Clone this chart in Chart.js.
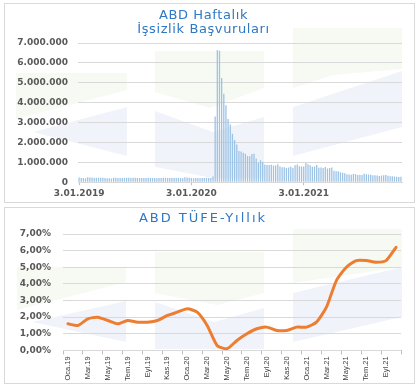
<!DOCTYPE html>
<html><head><meta charset="utf-8">
<script src="https://cdn.jsdelivr.net/npm/chart.js@4/dist/chart.umd.min.js"></script>
<style>
html,body{margin:0;padding:0;background:#fff;}
.panel{position:absolute;left:4px;width:409px;border:1px solid #d9d9d9;background:#fff;}
#p1{top:3px;height:198px;}
#p2{top:207px;height:175px;}
canvas{display:block;}
</style></head><body>
<div class="panel" id="p1"><canvas id="c1" width="409" height="198"></canvas></div>
<div class="panel" id="p2"><canvas id="c2" width="409" height="175"></canvas></div>
<script>
// ---- Data: weekly jobless claims (thousands) ----
const claimTitle = ['ABD Haftalık', 'İşsizlik Başvuruları'];
const claims2019 = [231,216,213,199,253,234,239,216,225,223,229,221,211,202,196,192,230,228,212,211,215,218,220,222,216,227,221,209,216,206,215,209,220,211,215,217,204,208,213,218,220,210,213,218,217,211,227,213,203,252,235,222];
const claims2020 = [214,204,211,216,202,205,210,219,216,211,282,3307,6648,6615,5237,4442,3867,3176,2900,2438,2123,1897,1566,1540,1482,1427,1314,1307,1416,1434,1186,963,1104,1011,884,866,860,873,837,845,898,787,751,751,709,742,778,712,853,885,803,787,787];
const claims2021 = [965,900,847,779,793,861,730,745,712,770,684,719,744,576,547,553,498,473,444,406,385,376,412,411,364,373,360,419,400,387,375,348,353,340,312,332,351,362,326,296,293,283,269,267,268];
const claimTickLabels = ['3.01.2019', '3.01.2020', '3.01.2021'];
const claimTickIndex = [0, 52, 104];

// ---- Data: US CPI YoY (%) ----
const cpiTitle = 'ABD TÜFE-Yıllık';
const cpiMonths = ['Oca.19','Şub.19','Mar.19','Nis.19','May.19','Haz.19','Tem.19','Ağu.19','Eyl.19','Eki.19','Kas.19','Ara.19',
  'Oca.20','Şub.20','Mar.20','Nis.20','May.20','Haz.20','Tem.20','Ağu.20','Eyl.20','Eki.20','Kas.20','Ara.20',
  'Oca.21','Şub.21','Mar.21','Nis.21','May.21','Haz.21','Tem.21','Ağu.21','Eyl.21','Eki.21'];
const cpi = [1.6,1.5,1.9,2.0,1.8,1.6,1.8,1.7,1.7,1.8,2.1,2.3,2.5,2.3,1.5,0.3,0.1,0.6,1.0,1.3,1.4,1.2,1.2,1.4,1.4,1.7,2.6,4.2,5.0,5.4,5.4,5.3,5.4,6.2];

const claims = [...claims2019, ...claims2020, ...claims2021];
const weekLabels = claims.map((_, i) => {
  const d = new Date(2019, 0, 3 + 7 * i);
  return d.getDate() + '.' + String(d.getMonth() + 1).padStart(2, '0') + '.' + d.getFullYear();
});

const GREEN = '#F6FAF3', BLUE = '#F0F4FA';
function decor(shapes, spacing) {
  return {
    id: 'decor',
    beforeDraw(chart) {
      const ctx = chart.ctx;
      ctx.save();
      shapes.forEach(s => {
        ctx.fillStyle = s.c;
        ctx.beginPath();
        s.p.forEach((pt, i) => i ? ctx.lineTo(pt[0], pt[1]) : ctx.moveTo(pt[0], pt[1]));
        ctx.closePath();
        ctx.fill();
      });
      ctx.restore();
      ctx.letterSpacing = spacing;
    },
    beforeDatasetsDraw(chart) { chart.ctx.letterSpacing = '0px'; }
  };
}
const topShapes = [
  {c: GREEN, p: [[11,69],[122,69],[122,86],[11,115]]},
  {c: BLUE,  p: [[28,128],[122,103],[122,152]]},
  {c: GREEN, p: [[150,47],[259,47],[259,84],[205,104],[150,88]]},
  {c: BLUE,  p: [[150,107],[208,128],[259,113],[259,174],[208,174],[150,163]]},
  {c: GREEN, p: [[288,24],[397,24],[397,65],[328,71],[288,84]]},
  {c: BLUE,  p: [[288,103],[397,67],[397,123],[288,152]]}
];
const botShapes = [
  {c: GREEN, p: [[12,59],[121,59],[121,74],[12,102]]},
  {c: BLUE,  p: [[27,114],[121,93],[121,134]]},
  {c: GREEN, p: [[150,44],[259,44],[259,85],[212,97],[150,85]]},
  {c: BLUE,  p: [[150,94],[209,114],[259,100],[259,141],[150,141]]},
  {c: GREEN, p: [[288,21],[397,21],[397,59],[288,75]]},
  {c: BLUE,  p: [[288,85],[397,59],[397,109],[288,134]]}
];

const tickFont = {family: 'DejaVu Sans', size: 9, weight: 'bold'};
const titleColor = '#2F78C4';
const gridColor = '#d9d9d9';
const dots = n => String(n).replace(/\B(?=(\d{3})+(?!\d))/g, '.');

new Chart(document.getElementById('c1'), {
  type: 'bar',
  data: {labels: weekLabels, datasets: [{data: claims, backgroundColor: '#9DC3E6', borderWidth: 0, barPercentage: 0.6, categoryPercentage: 1}]},
  options: {
    responsive: false, animation: false, devicePixelRatio: 1,
    layout: {padding: {left: 0, right: 12, top: 0, bottom: 0}},
    plugins: {
      legend: {display: false}, tooltip: {enabled: false},
      title: {display: true, text: claimTitle, color: titleColor, font: {family: 'DejaVu Sans', size: 13, weight: 'normal', lineHeight: 14/13}, padding: {top: 5, bottom: 6}}
    },
    scales: {
      x: {
        offset: true,
        grid: {display: true, offset: false, drawOnChartArea: false, drawTicks: true, tickLength: 3,
               tickColor: c => claimTickIndex.includes(c.index) ? '#bfbfbf' : 'rgba(0,0,0,0)'},
        border: {display: true, color: gridColor},
        ticks: {z: 1, autoSkip: false, maxRotation: 0, minRotation: 0, padding: 3, color: '#595959', font: tickFont,
                callback: (v, i) => { const k = claimTickIndex.indexOf(i); return k >= 0 ? claimTickLabels[k] : ''; }}
      },
      y: {
        min: 0, max: 7000,
        grid: {color: gridColor, drawTicks: false}, border: {display: false},
        ticks: {z: 1, stepSize: 1000, padding: 10, color: '#595959', font: tickFont, callback: v => dots(v * 1000)},
        afterFit: s => { s.width = 73; }
      }
    }
  },
  plugins: [decor(topShapes, '0.6px')]
});

new Chart(document.getElementById('c2'), {
  type: 'line',
  data: {labels: cpiMonths, datasets: [{data: cpi, borderColor: '#ED7D31', borderWidth: 3, pointRadius: 0, tension: 0.2, fill: false, borderCapStyle: 'round', borderJoinStyle: 'round'}]},
  options: {
    responsive: false, animation: false, devicePixelRatio: 1,
    layout: {padding: {left: 0, right: 13, top: 0, bottom: 0}},
    plugins: {
      legend: {display: false}, tooltip: {enabled: false},
      title: {display: true, text: cpiTitle, color: titleColor, font: {family: 'DejaVu Sans', size: 13, weight: 'normal', lineHeight: 14/13}, padding: {top: 4, bottom: 8}}
    },
    scales: {
      x: {
        offset: true,
        grid: {display: true, offset: true, drawOnChartArea: false, drawTicks: true, tickLength: 4,
               tickColor: c => (c.index === undefined || c.index % 2 === 0) ? '#bfbfbf' : 'rgba(0,0,0,0)'},
        border: {display: false},
        ticks: {z: 1, autoSkip: false, minRotation: 90, maxRotation: 90, padding: 2, color: '#404040',
                font: {family: "'Liberation Sans Narrow', 'Liberation Sans', sans-serif", size: 7.5},
                callback: (v, i) => i % 2 === 0 ? cpiMonths[i] : ''}
      },
      y: {
        min: 0, max: 7,
        grid: {color: gridColor, drawTicks: false}, border: {display: false},
        ticks: {z: 1, stepSize: 1, padding: 12, color: '#595959', font: tickFont, callback: v => v.toFixed(2).replace('.', ',') + '%'},
        afterFit: s => { s.width = 58; }
      }
    }
  },
  plugins: [decor(botShapes, '2px')]
});
</script></body></html>
